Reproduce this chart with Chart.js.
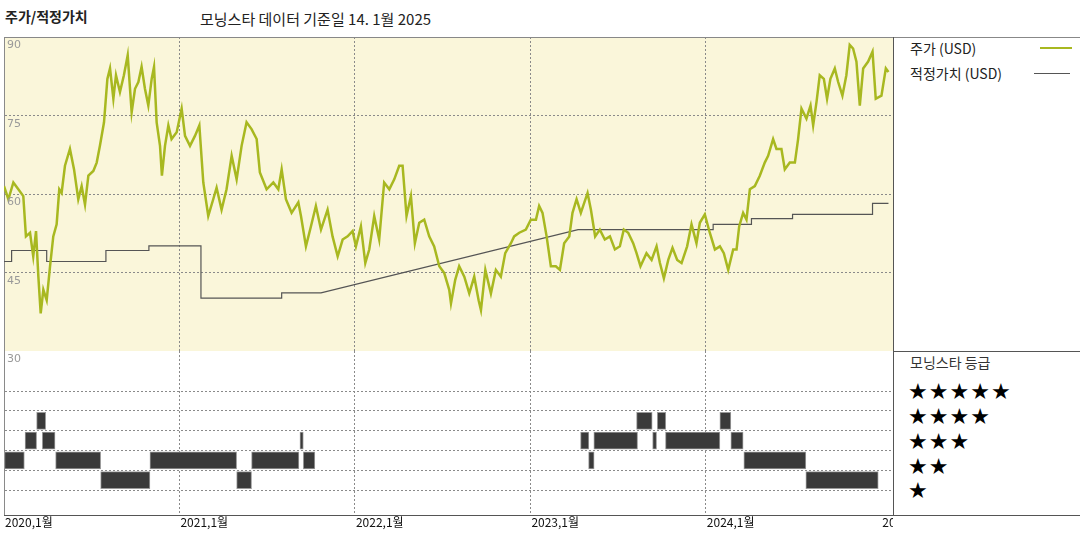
<!DOCTYPE html>
<html>
<head>
<meta charset="utf-8">
<script src="https://cdn.jsdelivr.net/npm/chart.js@4"></script>
<style>
  body { margin: 0; width: 1080px; height: 540px; background: #fff; font-family: "Noto Sans CJK KR", sans-serif; position: relative; overflow: hidden; }
  .abs { position: absolute; }
  .ln { position: absolute; background: #555; }
  .txt { position: absolute; white-space: nowrap; color: #222; }
  .star { position: absolute; left: 908px; font-size: 22px; line-height: 22px; letter-spacing: 1px; color: #000; font-family: "DejaVu Sans"; }
</style>
</head>
<body>
<div class="txt" style="left:5px;top:6px;font-size:14px;font-weight:bold;">주가/적정가치</div>
<div class="txt" style="left:200px;top:8px;font-size:15px;">모닝스타 데이터 기준일 14. 1월 2025</div>

<canvas id="grafico1" class="abs" width="889" height="314" style="left:4px;top:37px;"></canvas>
<canvas id="grafico2" class="abs" width="889" height="189" style="left:4px;top:351px;"></canvas>

<div class="ln" style="left:4px;top:37px;width:1076px;height:1px;background:#888;"></div>
<div class="ln" style="left:893px;top:351px;width:187px;height:1px;"></div>
<div class="ln" style="left:4px;top:515px;width:1076px;height:1px;"></div>
<div class="ln" style="left:893px;top:37px;width:1px;height:478px;"></div>

<div class="txt" style="left:910px;top:38px;font-size:14px;">주가 (USD)</div>
<div class="ln" style="left:1040px;top:47px;width:32px;height:2px;background:#a8b820;"></div>
<div class="txt" style="left:910px;top:63px;font-size:14px;">적정가치 (USD)</div>
<div class="ln" style="left:1034px;top:73px;width:36px;height:1px;background:#555;"></div>
<div class="txt" style="left:910px;top:352px;font-size:14px;color:#333;">모닝스타 등급</div>
<div class="star" style="top:381px;">★★★★★</div>
<div class="star" style="top:406px;">★★★★</div>
<div class="star" style="top:431px;">★★★</div>
<div class="star" style="top:456px;">★★</div>
<div class="star" style="top:480px;">★</div>

<script>
// months since 2020-01
var precoMes = [0,0.3,0.64,0.98,1.32,1.5,1.78,2.0,2.19,2.35,2.51,2.69,2.92,3.15,3.37,3.6,3.78,3.94,4.17,4.51,4.79,5.08,5.31,5.54,5.77,6.11,6.34,6.56,6.84,7.07,7.25,7.48,7.66,7.93,8.2,8.46,8.73,8.96,9.19,9.41,9.64,9.87,10.1,10.26,10.44,10.67,10.8,11.01,11.24,11.46,11.81,12.15,12.38,12.72,13.06,13.36,13.63,13.97,14.31,14.54,14.88,15.22,15.57,15.91,16.25,16.59,16.93,17.28,17.5,17.96,18.42,18.76,18.99,19.28,19.67,20.13,
  20.31,20.65,20.99,21.33,21.68,22.13,22.47,22.82,23.16,23.5,23.84,24.07,24.41,24.71,24.98,25.32,25.66,26.0,26.35,26.69,27.03,27.26,27.53,27.83,28.1,28.4,28.74,29.08,29.42,29.77,30.11,30.45,30.57,30.86,31.13,31.48,31.82,32.16,32.46,32.62,32.92,33.3,33.64,33.98,34.28,34.67,34.89,35.24,35.69,36.03,36.38,36.6,36.83,37.11,37.4,37.74,38.02,38.31,38.66,38.88,39.16,39.45,39.91,40.14,40.43,
  40.75,41.09,41.44,41.78,42.12,42.39,42.69,43.03,43.26,43.53,43.94,44.29,44.63,44.86,45.13,45.43,45.72,46.04,46.34,46.72,47.02,47.36,47.59,47.93,48.27,48.62,48.96,49.23,49.53,49.87,50.1,50.28,50.55,50.78,51.01,51.35,51.69,52.03,52.26,52.6,52.83,53.17,53.4,53.74,54.09,54.31,54.54,54.88,55.16,55.34,55.57,55.79,56.07,56.29,56.52,56.82,57.05,57.34,57.61,57.84,58.07,58.3,58.53,58.76,59.1,59.4,59.62,60.01,60.31,60.49];
var precoUSD = [61.5,59.0,62.2,60.9,59.6,51.9,52.6,48.1,52.9,44.2,37.2,41.7,39.7,46.2,51.9,54.2,60.9,60.2,65.4,68.6,64.7,59.0,61.5,58.0,63.5,64.4,66.0,69.2,73.7,82.0,84.0,78.2,82.7,79.5,82.7,86.5,75.6,80.1,81.4,84.3,80.1,76.9,82.0,84.3,73.7,69.2,63.5,69.2,73.1,70.5,71.8,76.3,71.1,69.2,71.1,73.1,62.2,55.8,59.0,61.2,57.0,60.9,67.3,62.8,69.2,73.7,72.4,70.5,64.1,60.9,62.2,60.9,64.7,59.0,56.4,58.4,
  55.8,50.0,53.8,57.7,53.2,57.0,51.9,48.1,51.3,51.9,52.9,50.0,53.8,46.8,49.4,55.8,51.3,62.2,60.9,62.8,65.4,65.4,55.8,59.6,50.6,54.5,55.1,51.9,50.0,46.2,44.9,41.7,39.1,43.6,46.2,44.2,41.0,44.2,39.7,37.8,45.5,41.0,45.5,44.2,48.7,50.6,51.9,52.6,53.2,55.1,55.1,57.7,56.4,51.9,46.2,46.2,45.5,50.6,51.9,56.4,59.0,56.4,60.2,57.0,51.9,
  53.2,51.3,51.9,49.4,50.0,53.2,52.6,50.6,48.7,46.2,48.7,47.4,50.0,46.8,43.9,47.4,49.7,47.4,46.8,50.0,54.2,50.6,54.5,56.1,52.6,49.4,50.0,48.7,45.5,49.4,49.4,53.8,56.4,55.1,60.9,61.5,63.5,66.0,67.3,70.5,68.6,68.6,64.7,66.0,66.0,70.5,76.3,74.4,76.9,73.1,77.6,82.7,82.0,78.2,82.0,84.0,81.4,78.8,82.7,88.5,87.8,85.3,76.9,84.0,85.3,87.2,78.2,78.8,84.0,83.3];

var valorMes = [0,0.52,0.52,2.92,2.92,6.97,6.97,9.91,9.91,13.47,13.47,18.99,18.99,21.68,39.26,48.5,48.5,51.12,51.12,53.93,53.93,59.4,59.4,60.49];
var valorUSD = [47.1,47.1,49.2,49.2,47.1,47.1,49.2,49.2,50.1,50.1,40.1,40.1,41.1,41.1,53.2,53.2,54.2,54.2,55.3,55.3,56.1,56.1,58.2,58.2];

// star rating periods: [start month, end month]
var estrela5 = [];
var estrela4 = [[2.23,2.85],[43.26,44.33],[44.68,45.26],[48.96,49.71]];
var estrela3 = [[1.44,2.23],[2.62,3.49],[20.24,20.47],[39.43,40.0],[40.34,43.33],[44.36,44.63],[45.24,48.96],[49.71,50.55]];
var estrela2 = [[0,1.39],[3.53,6.61],[9.98,15.91],[16.93,20.17],[20.47,21.26],[39.98,40.36],[50.6,54.84]];
var estrela1 = [[6.61,9.98],[15.91,16.93],[54.84,59.79]];

var anos = ["2020,1월","2021,1월","2022,1월","2023,1월","2024,1월","2025,1월"];
var ticksY = [90, 75, 60, 45];

function pares(xs, ys) {
  var out = [];
  for (var i = 0; i < xs.length; i++) out.push({ x: xs[i], y: ys[i] });
  return out;
}

var grade = { color: "#8a8a8a", lineWidth: 1, drawTicks: false };
var bordaPont = { dash: [2, 2], display: true, color: "#8a8a8a" };

var fundoAmarelo = {
  id: "fundoAmarelo",
  beforeDraw: function (chart) {
    var a = chart.chartArea, c = chart.ctx;
    c.save();
    c.fillStyle = "#faf6da";
    c.fillRect(a.left, a.top, a.right - a.left, a.bottom - a.top);
    c.restore();
  },
  afterDraw: function (chart) {
    var c = chart.ctx, y = chart.scales.y, a = chart.chartArea;
    c.save();
    c.fillStyle = "#999";
    c.font = "11px 'DejaVu Sans'";
    c.textBaseline = "top";
    ticksY.forEach(function (v) {
      c.fillText(String(v), a.left + 3, (v === 90 ? a.top : y.getPixelForValue(v)) + 3);
    });
    c.restore();
  }
};

var rotulosX = {
  id: "rotulosX",
  afterDraw: function (chart) {
    var c = chart.ctx, x = chart.scales.x, a = chart.chartArea;
    c.save();
    c.fillStyle = "#999";
    c.font = "11px 'DejaVu Sans'";
    c.textBaseline = "top";
    c.fillText("30", a.left + 3, a.top + 3);
    c.fillStyle = "#111";
    c.font = "12px 'Noto Sans CJK KR'";
    anos.forEach(function (t, i) {
      c.fillText(t, x.getPixelForValue(i * 12) + 1, a.bottom + 1);
    });
    c.restore();
  }
};

new Chart(document.getElementById("grafico1"), {
  type: "line",
  data: {
    datasets: [
      { label: "주가 (USD)", data: pares(precoMes, precoUSD), borderColor: "#a8b820", borderWidth: 2.5, pointRadius: 0, tension: 0 },
      { label: "적정가치 (USD)", data: pares(valorMes, valorUSD), borderColor: "#555", borderWidth: 1.2, pointRadius: 0, tension: 0 }
    ]
  },
  options: {
    responsive: false, maintainAspectRatio: false, animation: false,
    layout: { padding: 0 },
    plugins: { legend: { display: false }, tooltip: { enabled: false } },
    scales: {
      x: { type: "linear", min: 0, max: 60.8, ticks: { display: false, stepSize: 12 }, grid: grade, border: bordaPont },
      y: { min: 30, max: 90, ticks: { display: false, stepSize: 15 }, grid: grade, border: bordaPont }
    }
  },
  plugins: [fundoAmarelo]
});

function barras(lista, nota) {
  return lista.map(function (p) { return { x: p, y: nota }; });
}

new Chart(document.getElementById("grafico2"), {
  type: "bar",
  data: {
    datasets: [{
      data: [].concat(barras(estrela5, 5), barras(estrela4, 4), barras(estrela3, 3), barras(estrela2, 2), barras(estrela1, 1)),
      backgroundColor: "#3a3a3a", borderColor: "#9a9a9a", borderWidth: 1, borderSkipped: false,
      barThickness: 17
    }]
  },
  options: {
    indexAxis: "y",
    responsive: false, maintainAspectRatio: false, animation: false,
    layout: { padding: { bottom: 25 } },
    plugins: { legend: { display: false }, tooltip: { enabled: false } },
    scales: {
      x: { type: "linear", min: 0, max: 60.8, ticks: { display: false, stepSize: 12 }, grid: grade, border: bordaPont },
      y: { type: "linear", min: 0.07, max: 6.7, afterBuildTicks: function (s) { s.ticks = [1, 2, 3, 4, 5].map(function (v) { return { value: v }; }); }, ticks: { display: false }, grid: grade, border: bordaPont }
    }
  },
  plugins: [rotulosX]
});
</script>
</body>
</html>
